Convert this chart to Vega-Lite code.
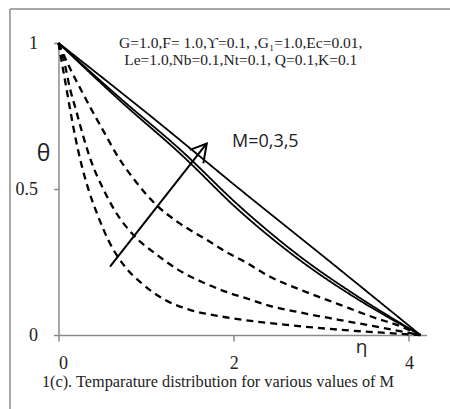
{
  "$schema": "https://vega.github.io/schema/vega-lite/v6.json",
  "width": 368,
  "height": 292,
  "autosize": {"type": "none"},
  "padding": {"left": 58.5, "top": 43, "right": 23.5, "bottom": 74},
  "background": "white",
  "config": {
    "view": {"stroke": null},
    "axis": {"grid": false, "domainColor": "#8a8a8a", "domainWidth": 1.5, "tickColor": "#8a8a8a", "tickWidth": 1.5, "labelFont": "Liberation Serif", "labelColor": "#222", "labelFontSize": 18, "format": "~g"}
  },
  "datasets": {
    "curves": [
      {"curve": "s3", "profile": "solid", "eta": 0, "theta": 1},
      {"curve": "s3", "profile": "solid", "eta": 1.1, "theta": 0.738},
      {"curve": "s3", "profile": "solid", "eta": 2.07, "theta": 0.499},
      {"curve": "s3", "profile": "solid", "eta": 3.0, "theta": 0.275},
      {"curve": "s3", "profile": "solid", "eta": 4.13, "theta": 0},
      {"curve": "s2", "profile": "solid", "eta": 0, "theta": 1},
      {"curve": "s2", "profile": "solid", "eta": 0.7, "theta": 0.812},
      {"curve": "s2", "profile": "solid", "eta": 1.4, "theta": 0.632},
      {"curve": "s2", "profile": "solid", "eta": 2.07, "theta": 0.44},
      {"curve": "s2", "profile": "solid", "eta": 2.76, "theta": 0.268},
      {"curve": "s2", "profile": "solid", "eta": 3.45, "theta": 0.125},
      {"curve": "s2", "profile": "solid", "eta": 4.13, "theta": 0},
      {"curve": "s1", "profile": "solid", "eta": 0, "theta": 1},
      {"curve": "s1", "profile": "solid", "eta": 0.7, "theta": 0.803},
      {"curve": "s1", "profile": "solid", "eta": 1.4, "theta": 0.618},
      {"curve": "s1", "profile": "solid", "eta": 2.07, "theta": 0.424},
      {"curve": "s1", "profile": "solid", "eta": 2.76, "theta": 0.255},
      {"curve": "s1", "profile": "solid", "eta": 3.45, "theta": 0.116},
      {"curve": "s1", "profile": "solid", "eta": 4.13, "theta": 0},
      {"curve": "d3", "profile": "dashed", "eta": 0, "theta": 1},
      {"curve": "d3", "profile": "dashed", "eta": 0.12, "theta": 0.92},
      {"curve": "d3", "profile": "dashed", "eta": 0.265, "theta": 0.835},
      {"curve": "d3", "profile": "dashed", "eta": 0.38, "theta": 0.77},
      {"curve": "d3", "profile": "dashed", "eta": 0.51, "theta": 0.7},
      {"curve": "d3", "profile": "dashed", "eta": 0.68, "theta": 0.61},
      {"curve": "d3", "profile": "dashed", "eta": 0.87, "theta": 0.53},
      {"curve": "d3", "profile": "dashed", "eta": 1.1, "theta": 0.45},
      {"curve": "d3", "profile": "dashed", "eta": 1.37, "theta": 0.385},
      {"curve": "d3", "profile": "dashed", "eta": 1.67, "theta": 0.33},
      {"curve": "d3", "profile": "dashed", "eta": 1.94, "theta": 0.28},
      {"curve": "d3", "profile": "dashed", "eta": 2.13, "theta": 0.25},
      {"curve": "d3", "profile": "dashed", "eta": 2.41, "theta": 0.2},
      {"curve": "d3", "profile": "dashed", "eta": 2.76, "theta": 0.155},
      {"curve": "d3", "profile": "dashed", "eta": 3.2, "theta": 0.105},
      {"curve": "d3", "profile": "dashed", "eta": 3.6, "theta": 0.06},
      {"curve": "d3", "profile": "dashed", "eta": 3.9, "theta": 0.03},
      {"curve": "d3", "profile": "dashed", "eta": 4.13, "theta": 0},
      {"curve": "d2", "profile": "dashed", "eta": 0, "theta": 1},
      {"curve": "d2", "profile": "dashed", "eta": 0.07, "theta": 0.93},
      {"curve": "d2", "profile": "dashed", "eta": 0.13, "theta": 0.845},
      {"curve": "d2", "profile": "dashed", "eta": 0.2, "theta": 0.77},
      {"curve": "d2", "profile": "dashed", "eta": 0.283, "theta": 0.68},
      {"curve": "d2", "profile": "dashed", "eta": 0.379, "theta": 0.59},
      {"curve": "d2", "profile": "dashed", "eta": 0.511, "theta": 0.5},
      {"curve": "d2", "profile": "dashed", "eta": 0.645, "theta": 0.425},
      {"curve": "d2", "profile": "dashed", "eta": 0.873, "theta": 0.337},
      {"curve": "d2", "profile": "dashed", "eta": 1.1, "theta": 0.28},
      {"curve": "d2", "profile": "dashed", "eta": 1.368, "theta": 0.223},
      {"curve": "d2", "profile": "dashed", "eta": 1.65, "theta": 0.18},
      {"curve": "d2", "profile": "dashed", "eta": 1.94, "theta": 0.145},
      {"curve": "d2", "profile": "dashed", "eta": 2.13, "theta": 0.127},
      {"curve": "d2", "profile": "dashed", "eta": 2.41, "theta": 0.1},
      {"curve": "d2", "profile": "dashed", "eta": 2.76, "theta": 0.077},
      {"curve": "d2", "profile": "dashed", "eta": 3.2, "theta": 0.052},
      {"curve": "d2", "profile": "dashed", "eta": 3.6, "theta": 0.03},
      {"curve": "d2", "profile": "dashed", "eta": 4.13, "theta": 0},
      {"curve": "d1", "profile": "dashed", "eta": 0, "theta": 1},
      {"curve": "d1", "profile": "dashed", "eta": 0.04, "theta": 0.93},
      {"curve": "d1", "profile": "dashed", "eta": 0.09, "theta": 0.845},
      {"curve": "d1", "profile": "dashed", "eta": 0.14, "theta": 0.76},
      {"curve": "d1", "profile": "dashed", "eta": 0.19, "theta": 0.68},
      {"curve": "d1", "profile": "dashed", "eta": 0.265, "theta": 0.58},
      {"curve": "d1", "profile": "dashed", "eta": 0.34, "theta": 0.5},
      {"curve": "d1", "profile": "dashed", "eta": 0.454, "theta": 0.405},
      {"curve": "d1", "profile": "dashed", "eta": 0.568, "theta": 0.325},
      {"curve": "d1", "profile": "dashed", "eta": 0.759, "theta": 0.234},
      {"curve": "d1", "profile": "dashed", "eta": 0.95, "theta": 0.177},
      {"curve": "d1", "profile": "dashed", "eta": 1.216, "theta": 0.12},
      {"curve": "d1", "profile": "dashed", "eta": 1.482, "theta": 0.088},
      {"curve": "d1", "profile": "dashed", "eta": 1.863, "theta": 0.063},
      {"curve": "d1", "profile": "dashed", "eta": 2.13, "theta": 0.051},
      {"curve": "d1", "profile": "dashed", "eta": 2.76, "theta": 0.03},
      {"curve": "d1", "profile": "dashed", "eta": 3.21, "theta": 0.018},
      {"curve": "d1", "profile": "dashed", "eta": 3.7, "theta": 0.008},
      {"curve": "d1", "profile": "dashed", "eta": 4.13, "theta": 0}
    ],
    "arrow": [
      {"part": "shaft", "order": 0, "eta": 0.588, "theta": 0.234},
      {"part": "shaft", "order": 1, "eta": 1.692, "theta": 0.656},
      {"part": "head", "order": 0, "eta": 1.5, "theta": 0.634},
      {"part": "head", "order": 1, "eta": 1.692, "theta": 0.656},
      {"part": "head", "order": 2, "eta": 1.653, "theta": 0.588}
    ],
    "frame": [
      {"side": "left", "order": 0, "eta": -0.554, "theta": -0.3},
      {"side": "left", "order": 1, "eta": -0.554, "theta": 1.1164},
      {"side": "top", "order": 0, "eta": -0.554, "theta": 1.1164},
      {"side": "top", "order": 1, "eta": 4.6, "theta": 1.1164}
    ]
  },
  "layer": [
    {
      "data": {"name": "curves"},
      "mark": {"type": "line", "interpolate": "monotone", "color": "black", "clip": false},
      "encoding": {
        "x": {"field": "eta", "type": "quantitative", "scale": {"domain": [0, 4.2], "nice": false, "zero": false},
          "axis": {"values": [0, 2, 4], "title": null, "tickSize": 6, "labelPadding": 13}},
        "y": {"field": "theta", "type": "quantitative", "scale": {"domain": [0, 1], "nice": false, "zero": false},
          "axis": {"values": [0, 0.5, 1], "title": null, "tickSize": 5, "labelPadding": 16, "labelBaseline": "middle"}},
        "detail": {"field": "curve"},
        "strokeDash": {"field": "profile", "type": "nominal", "scale": {"domain": ["solid", "dashed"], "range": [[1, 0], [7, 5]]}, "legend": null},
        "strokeWidth": {"field": "profile", "type": "nominal", "scale": {"domain": ["solid", "dashed"], "range": [1.8, 2.3]}, "legend": null},
        "order": {"field": "eta", "type": "quantitative"}
      }
    },
    {
      "data": {"name": "frame"},
      "mark": {"type": "line", "color": "#8a8a8a", "strokeWidth": 1.5, "clip": false},
      "encoding": {
        "x": {"field": "eta", "type": "quantitative"},
        "y": {"field": "theta", "type": "quantitative"},
        "detail": {"field": "side"},
        "order": {"field": "order", "type": "quantitative"}
      }
    },
    {
      "data": {"name": "arrow"},
      "mark": {"type": "line", "color": "black", "strokeWidth": 2, "clip": false},
      "encoding": {
        "x": {"field": "eta", "type": "quantitative"},
        "y": {"field": "theta", "type": "quantitative"},
        "detail": {"field": "part"},
        "order": {"field": "order", "type": "quantitative"}
      }
    },
    {
      "data": {"values": [{"label": "M=0,3,5", "eta": 1.98, "theta": 0.661}]},
      "mark": {"type": "text", "font": "Open Sans", "fontSize": 18, "align": "left", "baseline": "middle", "color": "#222", "clip": false},
      "encoding": {
        "x": {"field": "eta", "type": "quantitative"},
        "y": {"field": "theta", "type": "quantitative"},
        "text": {"field": "label"}
      }
    },
    {
      "data": {"values": [{"label": "θ", "eta": -0.17, "theta": 0.62}]},
      "mark": {"type": "text", "font": "Open Sans", "fontSize": 23, "align": "center", "baseline": "middle", "color": "#222", "clip": false},
      "encoding": {
        "x": {"field": "eta", "type": "quantitative"},
        "y": {"field": "theta", "type": "quantitative"},
        "text": {"field": "label"}
      }
    },
    {
      "data": {"values": [{"label": "η", "eta": 3.46, "theta": -0.042}]},
      "mark": {"type": "text", "font": "Open Sans", "fontSize": 19, "align": "center", "baseline": "middle", "color": "#222", "clip": false},
      "encoding": {
        "x": {"field": "eta", "type": "quantitative"},
        "y": {"field": "theta", "type": "quantitative"},
        "text": {"field": "label"}
      }
    },
    {
      "data": {"values": [
        {"label": "G=1.0,F= 1.0,ϒ=0.1, ,G₁=1.0,Ec=0.01,", "eta": 2.08, "theta": 1.0},
        {"label": "Le=1.0,Nb=0.1,Nt=0.1, Q=0.1,K=0.1", "eta": 2.08, "theta": 0.942}
      ]},
      "mark": {"type": "text", "font": "Liberation Serif", "fontSize": 15.5, "align": "center", "baseline": "middle", "color": "#222", "clip": false},
      "encoding": {
        "x": {"field": "eta", "type": "quantitative"},
        "y": {"field": "theta", "type": "quantitative"},
        "text": {"field": "label"}
      }
    },
    {
      "data": {"values": [
        {"label": "1(c). Temparature distribution for various values of  M", "eta": 1.82, "theta": -0.161}
      ]},
      "mark": {"type": "text", "font": "Liberation Serif", "fontSize": 16.3, "align": "center", "baseline": "middle", "color": "#222", "clip": false},
      "encoding": {
        "x": {"field": "eta", "type": "quantitative"},
        "y": {"field": "theta", "type": "quantitative"},
        "text": {"field": "label"}
      }
    }
  ]
}
